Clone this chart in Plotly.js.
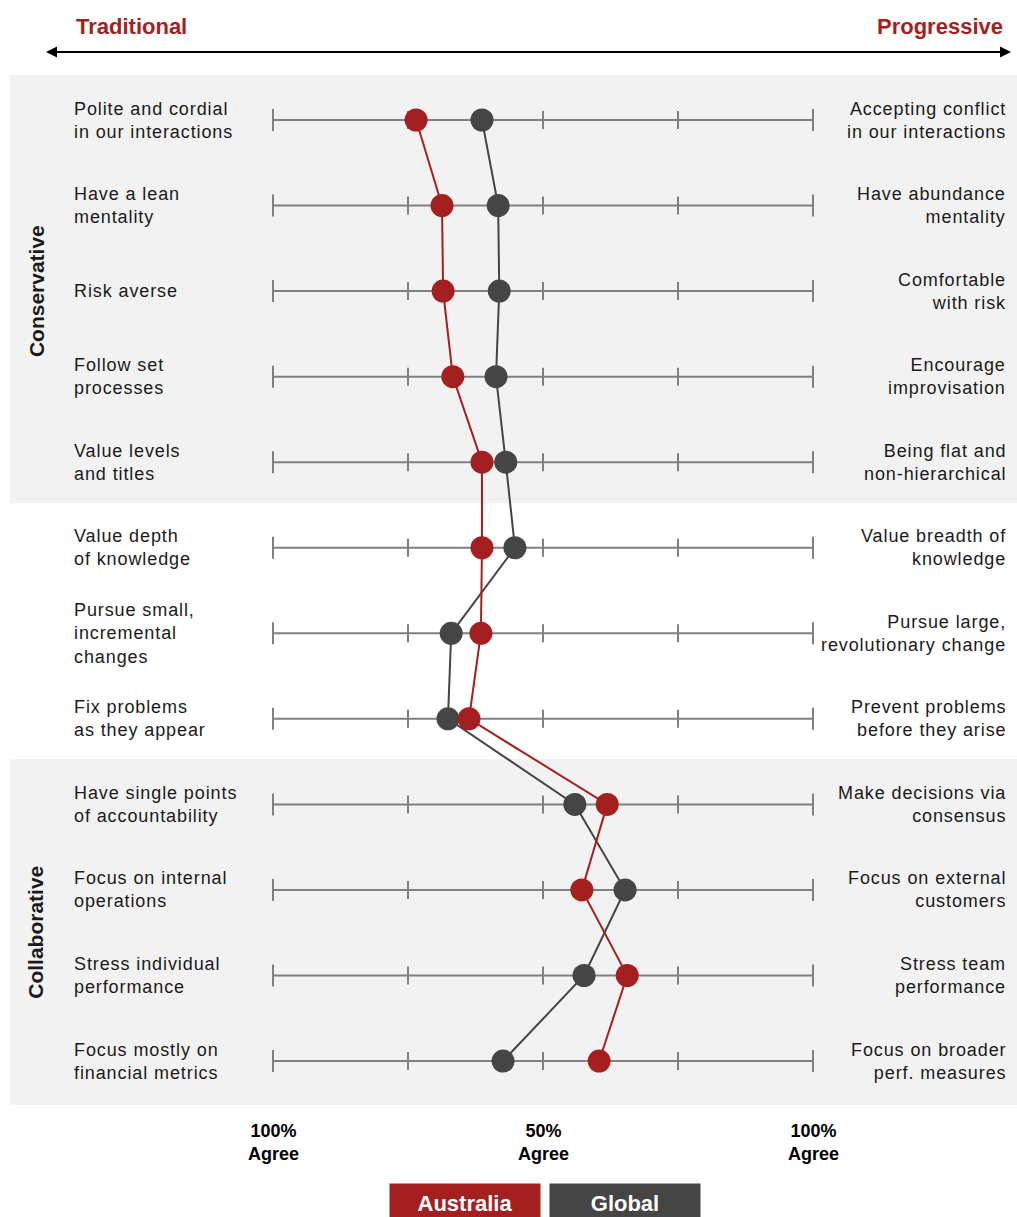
<!DOCTYPE html>
<html>
<head>
<meta charset="utf-8">
<script src="https://cdn.plot.ly/plotly-3.0.1.min.js"></script>
<style>
  html, body { margin: 0; padding: 0; background: #ffffff; }
  #chart { width: 1017px; height: 1217px; }
</style>
</head>
<body>
<div id="chart"></div>
<script>
// Survey statements: left pole (traditional) and right pole (progressive)
const leftLabels = [
  "Polite and cordial<br>in our interactions",
  "Have a lean<br>mentality",
  "Risk averse",
  "Follow set<br>processes",
  "Value levels<br>and titles",
  "Value depth<br>of knowledge",
  "Pursue small,<br>incremental<br>changes",
  "Fix problems<br>as they appear",
  "Have single points<br>of accountability",
  "Focus on internal<br>operations",
  "Stress individual<br>performance",
  "Focus mostly on<br>financial metrics"
];
const rightLabels = [
  "Accepting conflict<br>in our interactions",
  "Have abundance<br>mentality",
  "Comfortable<br>with risk",
  "Encourage<br>improvisation",
  "Being flat and<br>non-hierarchical",
  "Value breadth of<br>knowledge",
  "Pursue large,<br>revolutionary change",
  "Prevent problems<br>before they arise",
  "Make decisions via<br>consensus",
  "Focus on external<br>customers",
  "Stress team<br>performance",
  "Focus on broader<br>perf. measures"
];

// Position on the 0 (traditional) .. 100 (progressive) scale
const australia = [26.5, 31.3, 31.5, 33.3, 38.7, 38.7, 38.5, 36.3, 61.9, 57.2, 65.6, 60.4];
const globalVals = [38.7, 41.7, 41.9, 41.3, 43.1, 44.8, 33.0, 32.4, 55.9, 65.2, 57.6, 42.6];

// Scale ticks and their captions
const scaleTicks = [0, 25, 50, 75, 100];
const captionTicks = [0, 50, 100];
const captionText = ["100%<br>Agree", "50%<br>Agree", "100%<br>Agree"];

// Section groupings (first and last row index)
const groups = [
  { name: "Conservative", first: 0, last: 4 },
  { name: "Collaborative", first: 8, last: 11 }
];

const W = 1017, H = 1217;
const RED = "#a31f20", DARK = "#454545", AXIS = "#808080";
const FONT = "Liberation Sans, Arial, sans-serif";

const rows = leftLabels.map((_, i) => i);

// pixel helpers for layout decorations
const px = x => x / W;
const py = y => 1 - y / H;

// axis ranges so that 0 -> 273px, 100 -> 813px, row 0 -> 120px, step 85.55px
const pxPerUnit = 5.4;
const xr = [-273 / pxPerUnit, (W - 273) / pxPerUnit];
const rowStep = 85.55;
const yTop = -120 / rowStep;
const yr = [yTop + H / rowStep, yTop];

const shapes = [];
// grey section bands
shapes.push({ type: "rect", xref: "paper", yref: "paper", x0: px(10), x1: 1, y0: py(503), y1: py(75), fillcolor: "#f2f2f2", line: { width: 0 }, layer: "below" });
shapes.push({ type: "rect", xref: "paper", yref: "paper", x0: px(10), x1: 1, y0: py(1105), y1: py(759), fillcolor: "#f2f2f2", line: { width: 0 }, layer: "below" });

// scale line with ticks for every statement
const yPerPx = 1 / rowStep;
rows.forEach(r => {
  shapes.push({ type: "line", xref: "x", yref: "y", x0: scaleTicks[0], x1: scaleTicks[scaleTicks.length - 1], y0: r, y1: r, line: { color: AXIS, width: 2 }, layer: "below" });
  scaleTicks.forEach((t, k) => {
    const end = (k === 0 || k === scaleTicks.length - 1);
    const half = (end ? 11 : 9) * yPerPx;
    shapes.push({ type: "line", xref: "x", yref: "y", x0: t, x1: t, y0: r - half, y1: r + half, line: { color: AXIS, width: 2 }, layer: "below" });
  });
});

// top double arrow
shapes.push({ type: "line", xref: "paper", yref: "paper", x0: px(52), x1: px(1006), y0: py(52), y1: py(52), line: { color: "#000", width: 2 } });

const annotations = [];
const txt = { family: FONT, size: 18, color: "#1a1a1a" };
const spaced = s => s.split("<br>").map(l => '<span style="letter-spacing:0.9px">' + l + '</span>').join("<br>");

rows.forEach(r => {
  annotations.push({ xref: "paper", yref: "y", x: px(72), y: r, text: spaced(leftLabels[r]), showarrow: false, xanchor: "left", yanchor: "middle", align: "left", font: txt });
  annotations.push({ xref: "paper", yref: "y", x: px(1008), y: r, text: spaced(rightLabels[r]), showarrow: false, xanchor: "right", yanchor: "middle", align: "right", font: txt });
});

// arrowheads
annotations.push({ xref: "paper", yref: "paper", x: px(46), y: py(52), ax: 20, ay: 0, text: "", showarrow: true, arrowhead: 2, arrowsize: 1.1, arrowwidth: 2, arrowcolor: "#000" });
annotations.push({ xref: "paper", yref: "paper", x: px(1011), y: py(52), ax: -20, ay: 0, text: "", showarrow: true, arrowhead: 2, arrowsize: 1.1, arrowwidth: 2, arrowcolor: "#000" });

annotations.push({ xref: "paper", yref: "paper", x: px(74), y: py(26), text: "<b>Traditional</b>", showarrow: false, xanchor: "left", yanchor: "middle", font: { family: FONT, size: 22, color: RED } });
annotations.push({ xref: "paper", yref: "paper", x: px(1005), y: py(26), text: "<b>Progressive</b>", showarrow: false, xanchor: "right", yanchor: "middle", font: { family: FONT, size: 22, color: RED } });

// vertical group labels
groups.forEach(g => {
  annotations.push({ xref: "paper", yref: "y", x: px(36), y: (g.first + g.last) / 2, text: "<b>" + g.name + "</b>", showarrow: false, textangle: -90, xanchor: "center", yanchor: "middle", font: { family: FONT, size: 21, color: "#1a1a1a" } });
});

// bottom scale captions
captionTicks.forEach((t, i) => {
  annotations.push({ xref: "x", yref: "paper", x: t, y: py(1142), text: "<b>" + captionText[i] + "</b>", showarrow: false, xanchor: "center", yanchor: "middle", align: "center", font: { family: FONT, size: 18, color: "#000" } });
});

// legend boxes
annotations.push({ xref: "paper", yref: "paper", x: px(465), y: py(1203), text: "<b>Australia</b>", showarrow: false, xanchor: "center", yanchor: "middle", width: 146, height: 34, bgcolor: RED, borderpad: 2, font: { family: FONT, size: 22, color: "#fff" } });
annotations.push({ xref: "paper", yref: "paper", x: px(625), y: py(1203), text: "<b>Global</b>", showarrow: false, xanchor: "center", yanchor: "middle", width: 146, height: 34, bgcolor: DARK, borderpad: 2, font: { family: FONT, size: 22, color: "#fff" } });

const traces = [
  { type: "scatter", mode: "lines+markers", name: "Global", x: globalVals, y: rows, line: { color: DARK, width: 2 }, marker: { color: DARK, size: 23 }, cliponaxis: false },
  { type: "scatter", mode: "lines+markers", name: "Australia", x: australia, y: rows, line: { color: RED, width: 2 }, marker: { color: RED, size: 23 }, cliponaxis: false }
];

const layout = {
  width: W, height: H,
  margin: { l: 0, r: 0, t: 0, b: 0 },
  paper_bgcolor: "#ffffff", plot_bgcolor: "rgba(0,0,0,0)",
  showlegend: false,
  xaxis: { range: xr, visible: false, fixedrange: true },
  yaxis: { range: yr, visible: false, fixedrange: true },
  shapes: shapes,
  annotations: annotations
};

Plotly.newPlot("chart", traces, layout, { displayModeBar: false, staticPlot: true });
</script>
</body>
</html>
